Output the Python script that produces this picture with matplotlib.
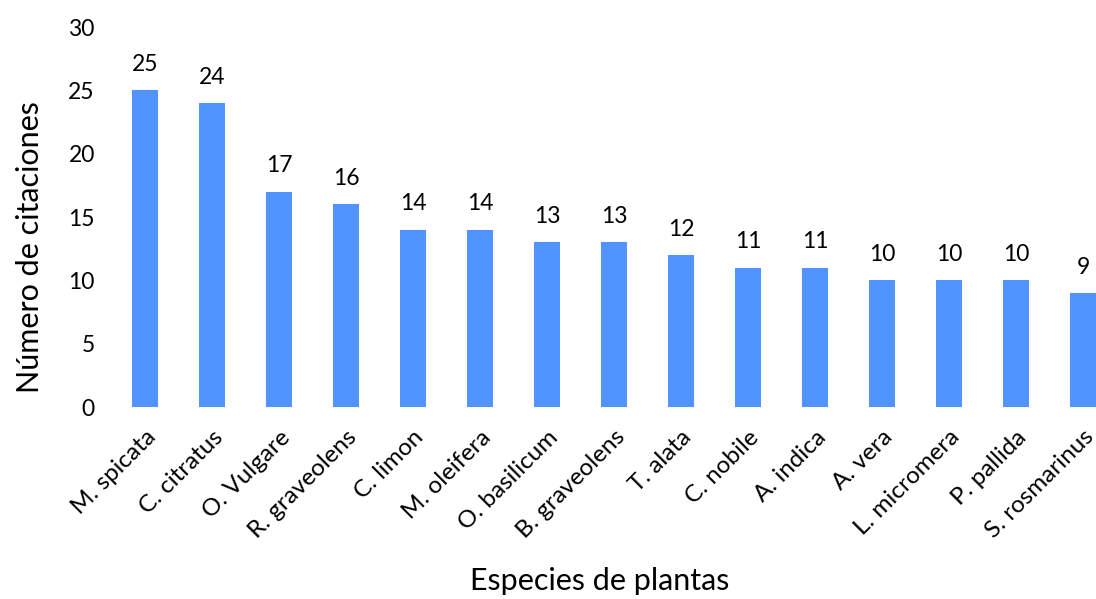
import matplotlib.pyplot as plt

plt.rcParams['font.family'] = ['Lato', 'DejaVu Sans']

species = ["M. spicata", "C. citratus", "O. Vulgare", "R. graveolens", "C. limon",
           "M. oleifera", "O. basilicum", "B. graveolens", "T. alata", "C. nobile",
           "A. indica", "A. vera", "L. micromera", "P. pallida", "S. rosmarinus"]
citations = [25, 24, 17, 16, 14, 14, 13, 13, 12, 11, 11, 10, 10, 10, 9]
yticks = [0, 5, 10, 15, 20, 25, 30]

W, H = 1096, 599
fig = plt.figure(figsize=(W / 100, H / 100), dpi=100)
ax = fig.add_axes([111.5 / W, 192 / H, (W - 111.5) / W, 380 / H])

x = list(range(len(species)))
ax.bar(x, citations, width=0.39, color='#5294FF')
for xi, v in zip(x, citations):
    ax.annotate(str(v), (xi, v), xytext=(0, 11), textcoords='offset points',
                ha='center', va='bottom', fontsize=16.5)

ax.set_xlim(-0.5, 14.5 - 20.5 / 67)
ax.set_ylim(0, 30)
ax.set_yticks(yticks)
ax.set_xticks(x)
ax.set_xticklabels(species, rotation=45, ha='right', rotation_mode='anchor', fontsize=17.5)
ax.tick_params(axis='y', length=0, pad=12, labelsize=16.5)
ax.tick_params(axis='x', length=0, pad=14)
for s in ax.spines.values():
    s.set_visible(False)

ax.set_ylabel('Número de citaciones', fontsize=22)
ax.set_xlabel('Especies de plantas', fontsize=22)
ax.yaxis.set_label_coords(-67.5 / (W - 111.5), 0.42)
ax.xaxis.set_label_coords((600 - 111.5) / (W - 111.5), -160 / 380)

fig.savefig('out.png', dpi=100)
